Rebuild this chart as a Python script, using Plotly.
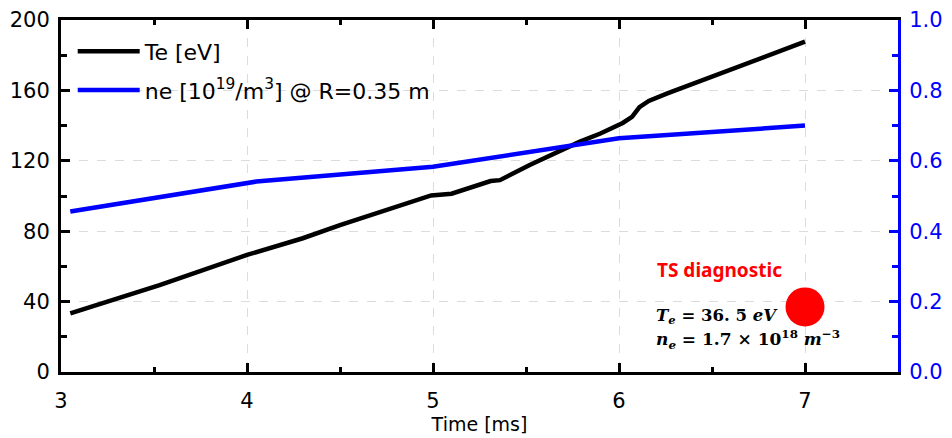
import plotly.graph_objects as go

# Te [eV] trace (left axis)
te_time = [3.05, 3.53, 4.0, 4.3, 4.5, 4.99, 5.1, 5.31, 5.36, 5.52, 5.79, 5.9, 6.02, 6.07, 6.11, 6.16, 6.26, 6.61, 7.0]
te_values = [33.3, 49.4, 66.5, 76.0, 83.5, 100.3, 101.3, 108.5, 109.0, 117.6, 130.9, 135.5, 141.5, 145.0, 150.5, 154.0, 158.3, 172.5, 187.7]

# ne [1e19/m^3] trace (right axis)
ne_time = [3.05, 4.05, 5.0, 6.0, 7.0]
ne_values = [0.456, 0.541, 0.583, 0.664, 0.700]

# TS diagnostic point
ts_time = [7.0]
ts_te = [37.0]

x_ticks = [3, 4, 5, 6, 7]
y_ticks = [0, 40, 80, 120, 160, 200]
y2_ticks = [0.0, 0.2, 0.4, 0.6, 0.8, 1.0]

BLUE = "#0000FF"
TICKFONT = dict(family="DejaVu Sans", size=21, color="black")

fig = go.Figure()
fig.add_trace(go.Scatter(x=te_time, y=te_values, mode="lines", name="Te [eV]",
                         line=dict(color="black", width=4.5), legendgroup="a"))
fig.add_trace(go.Scatter(x=ne_time, y=ne_values, mode="lines",
                         name="ne [10<sup>19</sup>/m<sup>3</sup>] @ R=0.35 m",
                         line=dict(color=BLUE, width=4.5), yaxis="y2", legendgroup="b"))
fig.add_trace(go.Scatter(x=ts_time, y=ts_te, mode="markers", showlegend=False,
                         marker=dict(color="#FF0000", size=39, line=dict(width=0))))

fig.update_layout(
    width=944, height=430,
    margin=dict(l=53, r=54, t=12, b=66),
    plot_bgcolor="white", paper_bgcolor="white",
    font=dict(family="DejaVu Sans", color="black"),
    legend=dict(x=0.014, y=0.97, xanchor="left", yanchor="top",
                font=dict(family="DejaVu Sans", size=22, color="black"),
                bgcolor="rgba(0,0,0,0)", tracegroupgap=7, itemwidth=62),
    xaxis=dict(range=[3, 7.5], tickmode="array", tickvals=x_ticks,
               ticktext=[str(v) for v in x_ticks], automargin=False,
               showline=True, linecolor="black", linewidth=3, mirror="ticks",
               ticks="inside", ticklen=9, tickwidth=3, tickcolor="black",
               minor=dict(ticks="inside", ticklen=5, tickwidth=3, tickcolor="black",
                          dtick=0.5, tick0=3, showgrid=False),
               showgrid=True, gridcolor="#dcdcdc", griddash="dash", gridwidth=1,
               tickfont=TICKFONT, ticklabelstandoff=8, zeroline=False,
               title=dict(text="Time [ms]", font=dict(family="DejaVu Sans", size=19), standoff=6)),
    yaxis=dict(range=[0, 200], tickmode="array", tickvals=y_ticks, automargin=False,
               showline=True, linecolor="black", linewidth=3, mirror=False,
               ticks="inside", ticklen=9, tickwidth=3, tickcolor="black",
               minor=dict(ticks="inside", ticklen=6, tickwidth=3, tickcolor="black",
                          dtick=20, tick0=0, showgrid=False),
               showgrid=True, gridcolor="#dcdcdc", griddash="dash", gridwidth=1,
               tickfont=TICKFONT, ticklabelstandoff=4, zeroline=False),
    yaxis2=dict(range=[0, 1.0], overlaying="y", side="right", tickmode="array",
                tickvals=y2_ticks, ticktext=["%.1f" % v for v in y2_ticks], automargin=False,
                showline=True, linecolor=BLUE, linewidth=3,
                ticks="inside", ticklen=9, tickwidth=3, tickcolor=BLUE,
                minor=dict(ticks="inside", ticklen=6, tickwidth=3, tickcolor=BLUE,
                           dtick=0.1, tick0=0, showgrid=False),
                showgrid=False, zeroline=False,
                tickfont=dict(family="DejaVu Sans", size=21, color=BLUE), ticklabelstandoff=4),
)

fig.add_annotation(x=6.54, y=58, xref="x", yref="y", text="<b>TS diagnostic</b>",
                   showarrow=False, font=dict(family="Noto Sans", size=19, color="#FF0000"))
fig.add_annotation(x=6.19, y=31.8, xref="x", yref="y", xanchor="left",
                   text="<b><i>T</i><sub><i>e</i></sub> = 36. 5 <i>eV</i></b>",
                   showarrow=False, font=dict(family="DejaVu Serif", size=16.5, color="black"))
fig.add_annotation(x=6.19, y=18.2, xref="x", yref="y", xanchor="left",
                   text="<b><i>n</i><sub><i>e</i></sub> = 1.7 × 10<sup>18</sup> <i>m</i><sup>−3</sup></b>",
                   showarrow=False, font=dict(family="DejaVu Serif", size=17, color="black"))

fig.write_html("out.html")
